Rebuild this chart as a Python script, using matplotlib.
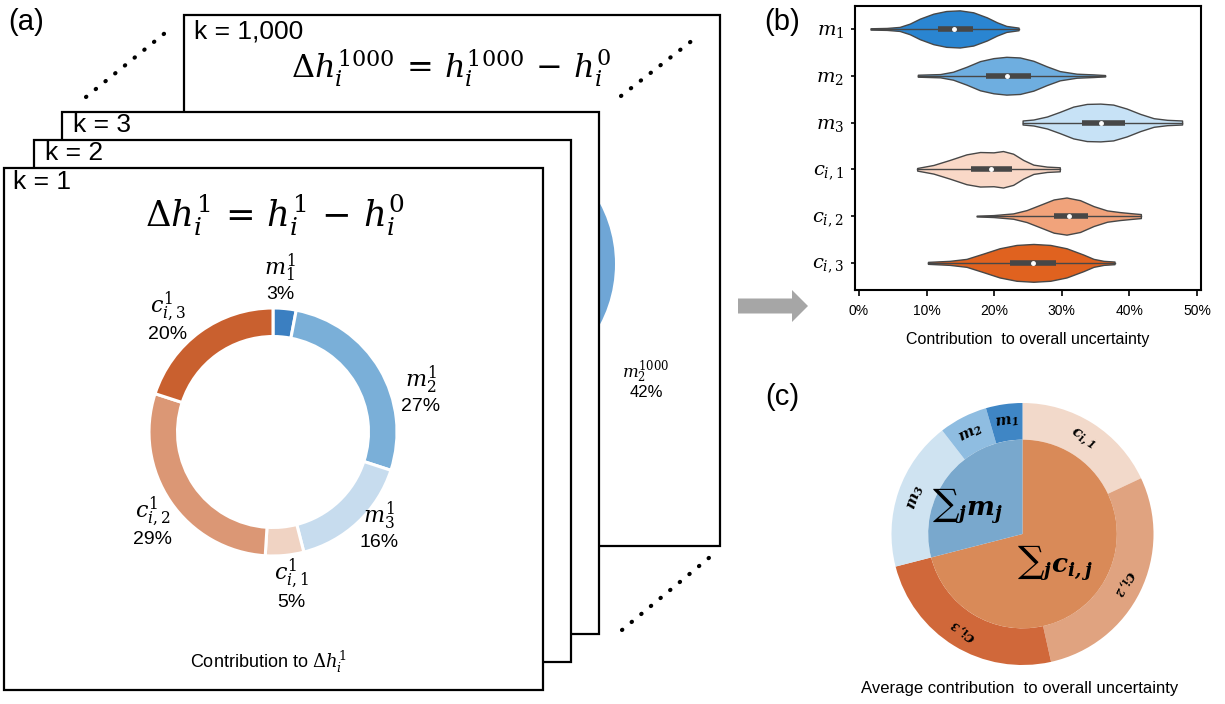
import matplotlib
matplotlib.use('Agg')
import matplotlib.pyplot as plt
from matplotlib.patches import Rectangle, FancyArrow
from matplotlib.mathtext import MathTextParser
import numpy as np

plt.rcParams['font.family'] = ['Liberation Sans', 'DejaVu Sans']
plt.rcParams['mathtext.fontset'] = 'dejavuserif'

# ---------------- data ----------------
# (a) k = 1 donut, clockwise from the top
donut_labels = [r'm_1^1', r'm_2^1', r'm_3^1', r'c_{i,1}^1', r'c_{i,2}^1', r'c_{i,3}^1']
donut_pct = [3, 27, 16, 5, 29, 20]
donut_colors = ['#3b7fc1', '#7aafd8', '#c7dcee', '#f0d3c3', '#db9775', '#c9602f']
# k = 1000: only the m2 slice peeks out behind the front frames
k1000_label = r'm_2^{1000}'
k1000_pct = 42

# (b) violins: x in %, half width in category units
violin_names = [r'm_1', r'm_2', r'm_3', r'c_{i,1}', r'c_{i,2}', r'c_{i,3}']
violin_colors = ['#2a85d1', '#6eaee0', '#c7e2f6', '#f9d8c7', '#f1a37b', '#e0621f']
m1_x = [1.7, 4.1, 6.0, 7.5, 9.0, 11.0, 12.9, 14.9, 16.9, 18.9, 20.4, 21.8, 23.6]
m1_w = [.014, .021, .043, .113, .22, .326, .383, .397, .355, .248, .142, .064, .028]
m2_x = [8.7, 12.0, 13.9, 15.9, 17.9, 19.9, 21.8, 23.8, 25.8, 27.8, 29.7, 32.2, 34.7, 36.4]
m2_w = [.021, .035, .085, .191, .312, .376, .404, .39, .319, .199, .099, .043, .028, .014]
m3_x = [24.2, 25.8, 27.8, 29.7, 31.7, 33.7, 35.7, 37.6, 39.6, 41.6, 43.6, 45.6, 47.8]
m3_w = [.043, .064, .128, .227, .34, .397, .404, .383, .298, .184, .092, .057, .043]
c1_x = [8.6, 11.0, 13.4, 15.9, 17.9, 19.9, 21.3, 22.8, 24.3, 25.8, 27.8, 29.7]
c1_w = [.028, .092, .199, .319, .369, .362, .39, .333, .199, .099, .057, .043]
c2_x = [17.4, 19.9, 22.8, 24.8, 26.8, 28.8, 30.7, 32.7, 34.7, 36.7, 38.6, 40.6, 41.7]
c2_w = [.007, .021, .057, .128, .241, .355, .397, .34, .213, .121, .085, .057, .043]
c3_x = [10.2, 13.4, 15.9, 18.4, 20.8, 23.3, 25.8, 28.3, 30.7, 33.2, 34.7, 36.2, 37.8]
c3_w = [.021, .043, .085, .199, .312, .383, .404, .383, .312, .177, .085, .043, .028]
violin_q1 = [11.7, 18.8, 33.0, 16.5, 28.9, 22.4]
violin_med = [14.1, 21.9, 35.8, 19.5, 31.0, 25.8]
violin_q3 = [16.9, 25.4, 39.4, 22.7, 33.9, 29.2]
x_ticks = [0, 10, 20, 30, 40, 50]

# (c) nested pie, clockwise from the top
outer_sym = ['c', 'c', 'c', 'm', 'm', 'm']
outer_sub = ['i,1', 'i,2', 'i,3', '3', '2', '1']
outer_pct = [18, 28.5, 24.5, 18.5, 6, 4.5]
outer_colors = ['#f2d9ca', '#e0a380', '#d0683a', '#cfe3f1', '#8fbde1', '#3f86c5']
inner_sym = ['c', 'm']
inner_sub = ['i,j', 'j']
inner_pct = [sum(outer_pct[:3]), sum(outer_pct[3:])]
inner_colors = ['#d98a58', '#79a8cd']

# bold italic maths if this matplotlib knows \mathbfit
try:
    MathTextParser('path').parse(r'$\mathbfit{c}_{\mathbfit{i,1}}$')
    bold = lambda s: r'\mathbfit{' + s + '}'
except Exception:
    bold = lambda s: s

W, H = 1225, 704
fig = plt.figure(figsize=(W / 100, H / 100), dpi=100)


def px_axes(z):
    a = fig.add_axes([0, 0, 1, 1])
    a.set_xlim(0, W)
    a.set_ylim(H, 0)
    a.axis('off')
    a.set_zorder(z)
    return a


def frame(a, x0, y0, x1, y1):
    a.add_patch(Rectangle((x0, y0), x1 - x0, y1 - y0, facecolor='white',
                          edgecolor='black', lw=1.6))


# back layer: k = 1000 frame, dots, arrow, panel letters
axA = px_axes(0)
frame(axA, 184, 15, 720, 546)
axA.text(194, 32, 'k = 1,000', fontsize=19, va='center')
axA.text(451, 68, r'$\Delta h_i^{1000}\,=\,h_i^{1000}\,-\,h_i^0$', fontsize=23,
         ha='center', va='center')
axA.text(646, 380, '$' + k1000_label + '$\n' + f'{k1000_pct}%', fontsize=12,
         ha='center', va='center', linespacing=1.0)
for xs, ys in [([86, 165], [97, 33]), ([621, 698], [96, 36]), ([622, 710], [630, 557])]:
    axA.plot(xs, ys, color='black', lw=3, ls=(0, (0.1, 2.9)), solid_capstyle='round',
             dash_capstyle='round')
axA.add_patch(FancyArrow(738, 306, 70, 0, width=15, head_width=32, head_length=16,
                         length_includes_head=True, color='#a6a6a6', lw=0))
axA.text(8, 22, '(a)', fontsize=21, va='center')
axA.text(782, 22, '(b)', fontsize=21, va='center', ha='center')
axA.text(782, 397, '(c)', fontsize=21, va='center', ha='center')
axA.text(1020, 689, 'Average contribution  to overall uncertainty', fontsize=12,
         ha='center', va='center')

# k = 1000 pie (partly hidden)
axP = fig.add_axes([(486 - 129) / W, 1 - (264 + 129) / H, 258 / W, 258 / H])
axP.pie([k1000_pct, 100 - k1000_pct], colors=['#6fa6d6', 'none'],
        startangle=k1000_pct * 3.6 / 2, counterclock=False)
axP.set_xlim(-1, 1)
axP.set_ylim(-1, 1)
axP.set_zorder(1)

# front frames k = 3, 2, 1
axB = px_axes(2)
frame(axB, 62, 112, 599, 634)
axB.text(73, 125, 'k = 3', fontsize=19, va='center')
frame(axB, 34, 140, 571, 662)
axB.text(45, 153, 'k = 2', fontsize=19, va='center')
frame(axB, 4, 168, 543, 690)
axB.text(13, 182, 'k = 1', fontsize=19, va='center')
axB.text(275, 215, r'$\Delta h_i^1\,=\,h_i^1\,-\,h_i^0$', fontsize=25.5, ha='center',
         va='center')
axB.text(268, 662, r'Contribution to $\Delta h_i^1$', fontsize=13, ha='center', va='center',
         family=['Liberation Sans Narrow', 'Liberation Sans', 'DejaVu Sans'])

# k = 1 donut
axD = fig.add_axes([149 / W, 1 - 556 / H, 248 / W, 248 / H])
axD.pie(donut_pct, colors=donut_colors, startangle=90, counterclock=False,
        wedgeprops=dict(width=0.23, edgecolor='white', linewidth=2.2))
axD.set_xlim(-1, 1)
axD.set_ylim(-1, 1)
axD.set_zorder(3)
# point between the name line and the percentage line of each label
label_xy = [(0.056, 1.185), (1.194, 0.282), (0.855, -0.815), (0.145, -1.298),
            (-0.968, -0.79), (-0.847, 0.863)]
for (lx, ly), lab, p in zip(label_xy, donut_labels, donut_pct):
    axD.text(lx, ly + 0.01, '$' + lab + '$', fontsize=16, ha='center', va='bottom')
    axD.text(lx, ly - 0.01, f'{p}%', fontsize=14, ha='center', va='top')

# (b) violins
axV = fig.add_axes([855 / W, 1 - 290 / H, 346 / W, 284 / H])
vx = [m1_x, m2_x, m3_x, c1_x, c2_x, c3_x]
vw = [m1_w, m2_w, m3_w, c1_w, c2_w, c3_w]
for i in range(len(violin_names)):
    x = np.array(vx[i])
    w = np.array(vw[i])
    axV.fill_between(x, i - w, i + w, facecolor=violin_colors[i], edgecolor='#474747',
                     lw=1, zorder=2)
    axV.plot([x[0], x[-1]], [i, i], color='#474747', lw=1, zorder=3)
    axV.plot([violin_q1[i], violin_q3[i]], [i, i], color='#474747', lw=4,
             solid_capstyle='butt', zorder=3)
    axV.plot(violin_med[i], i, 'o', color='white', ms=2.5, zorder=4)
axV.set_xlim(-0.6, 50.6)
axV.set_ylim(5.58, -0.49)
axV.set_xticks(x_ticks)
axV.set_xticklabels([f'{t}%' for t in x_ticks])
axV.set_yticks(range(len(violin_names)))
axV.set_yticklabels(['$' + n + '$' for n in violin_names])
axV.tick_params(axis='x', length=4, width=1.2, pad=6, labelsize=10)
axV.tick_params(axis='y', length=3, width=1.2, pad=5, labelsize=14)
for s in axV.spines.values():
    s.set_linewidth(1.5)
axV.set_xlabel('Contribution  to overall uncertainty', fontsize=11.5, labelpad=10)

# (c) nested pie
axC = fig.add_axes([(1022.5 - 131) / W, 1 - (534 + 131) / H, 262 / W, 262 / H])
outer, _ = axC.pie(outer_pct, colors=outer_colors, startangle=90, counterclock=False,
                   radius=1, wedgeprops=dict(width=0.28, lw=0))
axC.pie(inner_pct, colors=inner_colors, startangle=90, counterclock=False,
        radius=0.72, wedgeprops=dict(lw=0))
axC.set_xlim(-1, 1)
axC.set_ylim(-1, 1)
for wd, sym, sub in zip(outer, outer_sym, outer_sub):
    mid = np.deg2rad((wd.theta1 + wd.theta2) / 2)
    axC.text(0.86 * np.cos(mid), 0.86 * np.sin(mid),
             '$' + bold(sym) + '_{' + bold(sub) + '}$', fontsize=11,
             ha='center', va='center', rotation=np.rad2deg(mid) - 90)
inner_xy = [(0.25, -0.22), (-0.42, 0.21)]
for (tx, ty), sym, sub in zip(inner_xy, inner_sym, inner_sub):
    axC.text(tx, ty, r'${\sum}_{' + bold('j') + '}' + bold(sym) + '_{' + bold(sub) + '}$',
             fontsize=19, ha='center', va='center')

fig.savefig('out.png', dpi=100)
